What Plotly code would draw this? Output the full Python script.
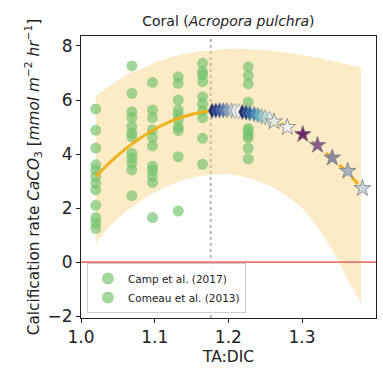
import plotly.graph_objects as go

# ---- observations (TA:DIC vs calcification rate) ----
camp_x = [1.02] * 12 + [1.097] * 11 + [1.165] * 10
camp_y = [5.67, 4.88, 4.22, 3.60, 3.40, 3.16, 2.92, 2.67, 2.10, 1.65, 1.45, 1.25,
          6.65, 5.63, 5.35, 4.90, 4.62, 4.30, 3.55, 3.40, 3.18, 2.95, 1.65,
          7.36, 7.05, 6.93, 6.68, 6.12, 5.85, 5.60, 5.35, 4.58, 3.62]

comeau_x = [1.069] * 12 + [1.132] * 10 + [1.227] * 11
comeau_y = [7.26, 6.25, 5.57, 5.35, 5.01, 4.77, 4.64, 4.03, 3.86, 3.66, 3.41, 2.46,
            6.86, 6.62, 6.00, 5.63, 5.45, 5.26, 5.00, 4.87, 3.90, 1.89,
            7.23, 6.90, 6.60, 5.92, 5.50, 4.95, 4.85, 4.70, 4.60, 4.21, 3.82]

# ---- fitted response and its confidence band ----
fit_x = [1.02, 1.04, 1.06, 1.08, 1.10, 1.12, 1.14, 1.16, 1.176]
fit_y = [3.16, 3.71, 4.18, 4.58, 4.92, 5.19, 5.39, 5.53, 5.60]

proj_x = [1.176, 1.20, 1.22, 1.24, 1.26, 1.28, 1.30, 1.32, 1.34, 1.36, 1.38]
proj_y = [5.60, 5.62, 5.56, 5.44, 5.25, 5.00, 4.69, 4.31, 3.86, 3.35, 2.77]

band_x = [1.02, 1.04, 1.06, 1.08, 1.10, 1.12, 1.14, 1.16, 1.18, 1.20,
          1.22, 1.24, 1.26, 1.28, 1.30, 1.32, 1.34, 1.36, 1.38]
band_hi = [6.15, 6.55, 6.90, 7.15, 7.38, 7.57, 7.71, 7.80, 7.86, 7.90,
           7.90, 7.87, 7.82, 7.75, 7.67, 7.57, 7.45, 7.33, 7.20]
band_lo = [0.70, 1.35, 1.85, 2.25, 2.58, 2.85, 3.05, 3.18, 3.25, 3.25,
           3.17, 3.00, 2.78, 2.45, 2.00, 1.35, 0.50, -0.50, -1.55]

# ---- scenario projections ----
scen_x = [1.178, 1.183, 1.188, 1.193, 1.198, 1.204, 1.209, 1.214,
          1.219, 1.224, 1.229, 1.235, 1.240, 1.245, 1.250, 1.256]
scen_y = [5.60, 5.61, 5.62, 5.62, 5.62, 5.61, 5.60, 5.58,
          5.56, 5.54, 5.51, 5.48, 5.44, 5.40, 5.36, 5.30]
scen_colors = ["#1f2d6e", "#2a3f8f", "#3b5ba8", "#5578b0", "#7f9fc0", "#b0c8d4",
               "#e8eef0", "#f4f4f4", "#1e2a70", "#24478f", "#2f6aa8", "#3d8db8",
               "#5fb0c4", "#8cc8cc", "#b4dcd4", "#d8ece4"]

star_x = [1.262, 1.280, 1.301, 1.321, 1.341, 1.362, 1.382]
star_y = [5.20, 4.99, 4.73, 4.33, 3.86, 3.37, 2.73]
star_colors = ["#e4ece4", "#f8f8f8", "#6e2a6a", "#8a5c8c", "#8c8ca0", "#a4b4c4", "#c8d4e0"]

threshold_x = 1.176
zero_line = 0

GREEN = "rgba(112,194,104,0.66)"
GOLD = "#efb21a"

fig = go.Figure()

# confidence band
fig.add_trace(go.Scatter(x=band_x, y=band_hi, mode="lines", line=dict(width=0),
                         showlegend=False, hoverinfo="skip"))
fig.add_trace(go.Scatter(x=band_x, y=band_lo, mode="lines", line=dict(width=0),
                         fill="tonexty", fillcolor="rgba(248,200,100,0.36)",
                         showlegend=False, hoverinfo="skip"))

# observations
fig.add_trace(go.Scatter(x=camp_x, y=camp_y, mode="markers", name="Camp et al. (2017)",
                         marker=dict(size=11, color=GREEN, line=dict(width=0))))
fig.add_trace(go.Scatter(x=comeau_x, y=comeau_y, mode="markers", name="Comeau et al. (2013)",
                         marker=dict(size=11, color=GREEN, line=dict(width=0))))

# fitted curve and extrapolation
fig.add_trace(go.Scatter(x=fit_x, y=fit_y, mode="lines", line=dict(color=GOLD, width=3, shape="spline"),
                         showlegend=False))
fig.add_trace(go.Scatter(x=proj_x, y=proj_y, mode="lines",
                         line=dict(color=GOLD, width=3, dash="dash", shape="spline"),
                         showlegend=False))

# scenario markers
fig.add_trace(go.Scatter(x=scen_x, y=scen_y, mode="markers", showlegend=False,
                         marker=dict(symbol="diamond-tall", size=11, color=scen_colors,
                                     line=dict(color="#8a8a8a", width=0.6))))
fig.add_trace(go.Scatter(x=star_x, y=star_y, mode="markers", showlegend=False,
                         marker=dict(symbol="star", size=12.5, color=star_colors,
                                     line=dict(color="#7a7a7a", width=0.8))))

# reference lines
fig.add_shape(type="line", xref="x", yref="paper", x0=threshold_x, x1=threshold_x, y0=0, y1=1,
              line=dict(color="#b5b5b5", width=2, dash="dot"), layer="below")
fig.add_shape(type="line", xref="paper", yref="y", x0=0, x1=1, y0=zero_line, y1=zero_line,
              line=dict(color="#e47a6e", width=1.6))

axis_common = dict(showline=True, linecolor="#222", linewidth=1, mirror=True,
                   ticks="outside", ticklen=4, tickcolor="#222", showgrid=False,
                   zeroline=False, tickfont=dict(size=17, color="#222"))

fig.update_layout(
    width=383, height=381,
    margin=dict(l=81, r=7, t=36, b=63),
    paper_bgcolor="white", plot_bgcolor="white",
    font=dict(family="DejaVu Sans", color="#222"),
    title=dict(text="Coral (<i>Acropora pulchra</i>)", x=0.5963, xanchor="center",
               y=0.945, yanchor="middle", font=dict(size=14)),
    xaxis=dict(range=[1.0, 1.4004], tickvals=[1.0, 1.1, 1.2, 1.3],
               ticktext=["1.0", "1.1", "1.2", "1.3"],
               title=dict(text="TA:DIC", font=dict(size=15.5), standoff=4), **axis_common),
    yaxis=dict(range=[-2.07, 8.37], tickvals=[-2, 0, 2, 4, 6, 8],
               ticktext=["\u22122", "0", "2", "4", "6", "8"],
               title=dict(text="Calcification rate <i>CaCO</i><sub>3</sub> [<i>mmol m</i><sup>\u22122</sup> <i>hr</i><sup>\u22121</sup>]",
                          font=dict(size=15.3), standoff=4), **axis_common),
    legend=dict(x=0.02, y=0.018, xanchor="left", yanchor="bottom", traceorder="normal",
                bgcolor="rgba(255,255,255,0.85)", bordercolor="#cccccc", borderwidth=1,
                font=dict(size=10.5), itemsizing="constant", tracegroupgap=0),
)

fig.write_html("out.html")
